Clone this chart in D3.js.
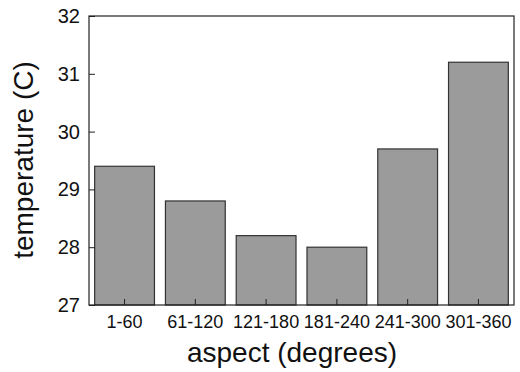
<!DOCTYPE html>
<html>
<head>
<meta charset="utf-8">
<script src="https://cdn.jsdelivr.net/npm/d3@7"></script>
<style>
  html, body { margin: 0; padding: 0; background: #fff; }
  svg { display: block; font-family: "Liberation Sans", Arial, Helvetica, sans-serif; }
</style>
</head>
<body>
<svg id="chart"></svg>
<script>
// data
const categories = ['1-60', '61-120', '121-180', '181-240', '241-300', '301-360']
const temperatures = [29.4, 28.8, 28.2, 28.0, 29.7, 31.2]
const yTicks = [27, 28, 29, 30, 31, 32]

const width = 520
const height = 372
const margin = {top: 16, right: 6, bottom: 67, left: 89}

const svg = d3.select('#chart')
  .attr('width', width)
  .attr('height', height)

const x = d3.scaleBand()
  .domain(categories)
  .range([margin.left, width - margin.right])
  .paddingInner(0.155)
  .paddingOuter(0.08)

const y = d3.scaleLinear()
  .domain([27, 32])
  .range([height - margin.bottom, margin.top])

// bars
svg.append('g')
  .selectAll('rect')
  .data(temperatures)
  .enter()
  .append('rect')
    .attr('x', (d, i) => x(categories[i]))
    .attr('y', d => y(d))
    .attr('width', x.bandwidth())
    .attr('height', d => y(27) - y(d))
    .style('fill', '#9b9b9b')
    .style('stroke', '#333')
    .style('stroke-width', 1.2)

// y axis, ticks pointing inward
const yAxis = svg.append('g')
  .attr('transform', `translate(${margin.left},0)`)
  .call(d3.axisRight(y).tickValues(yTicks).tickSize(6).tickFormat(d3.format('d')))
yAxis.select('.domain').remove()
yAxis.selectAll('line').style('stroke', '#222')
yAxis.selectAll('text')
  .attr('x', -9)
  .style('text-anchor', 'end')
  .style('font-size', '20px')
  .style('fill', '#111')

// x axis, ticks pointing inward
const xAxis = svg.append('g')
  .attr('transform', `translate(0,${height - margin.bottom})`)
  .call(d3.axisTop(x).tickSize(6))
xAxis.select('.domain').remove()
xAxis.selectAll('line').style('stroke', '#222')
xAxis.selectAll('text')
  .attr('y', 23)
  .style('font-size', '18px')
  .style('fill', '#111')

// frame
svg.append('rect')
  .attr('x', margin.left)
  .attr('y', margin.top)
  .attr('width', width - margin.right - margin.left)
  .attr('height', height - margin.bottom - margin.top)
  .style('fill', 'none')
  .style('stroke', '#222')
  .style('stroke-width', 1.2)

// axis titles
svg.append('text')
  .attr('x', 292)
  .attr('y', 362)
  .attr('text-anchor', 'middle')
  .style('font-size', '28px')
  .style('fill', '#111')
  .text('aspect (degrees)')

svg.append('text')
  .attr('transform', 'translate(33,160) rotate(-90)')
  .attr('text-anchor', 'middle')
  .style('font-size', '28px')
  .style('fill', '#111')
  .text('temperature (C)')
</script>
</body>
</html>
